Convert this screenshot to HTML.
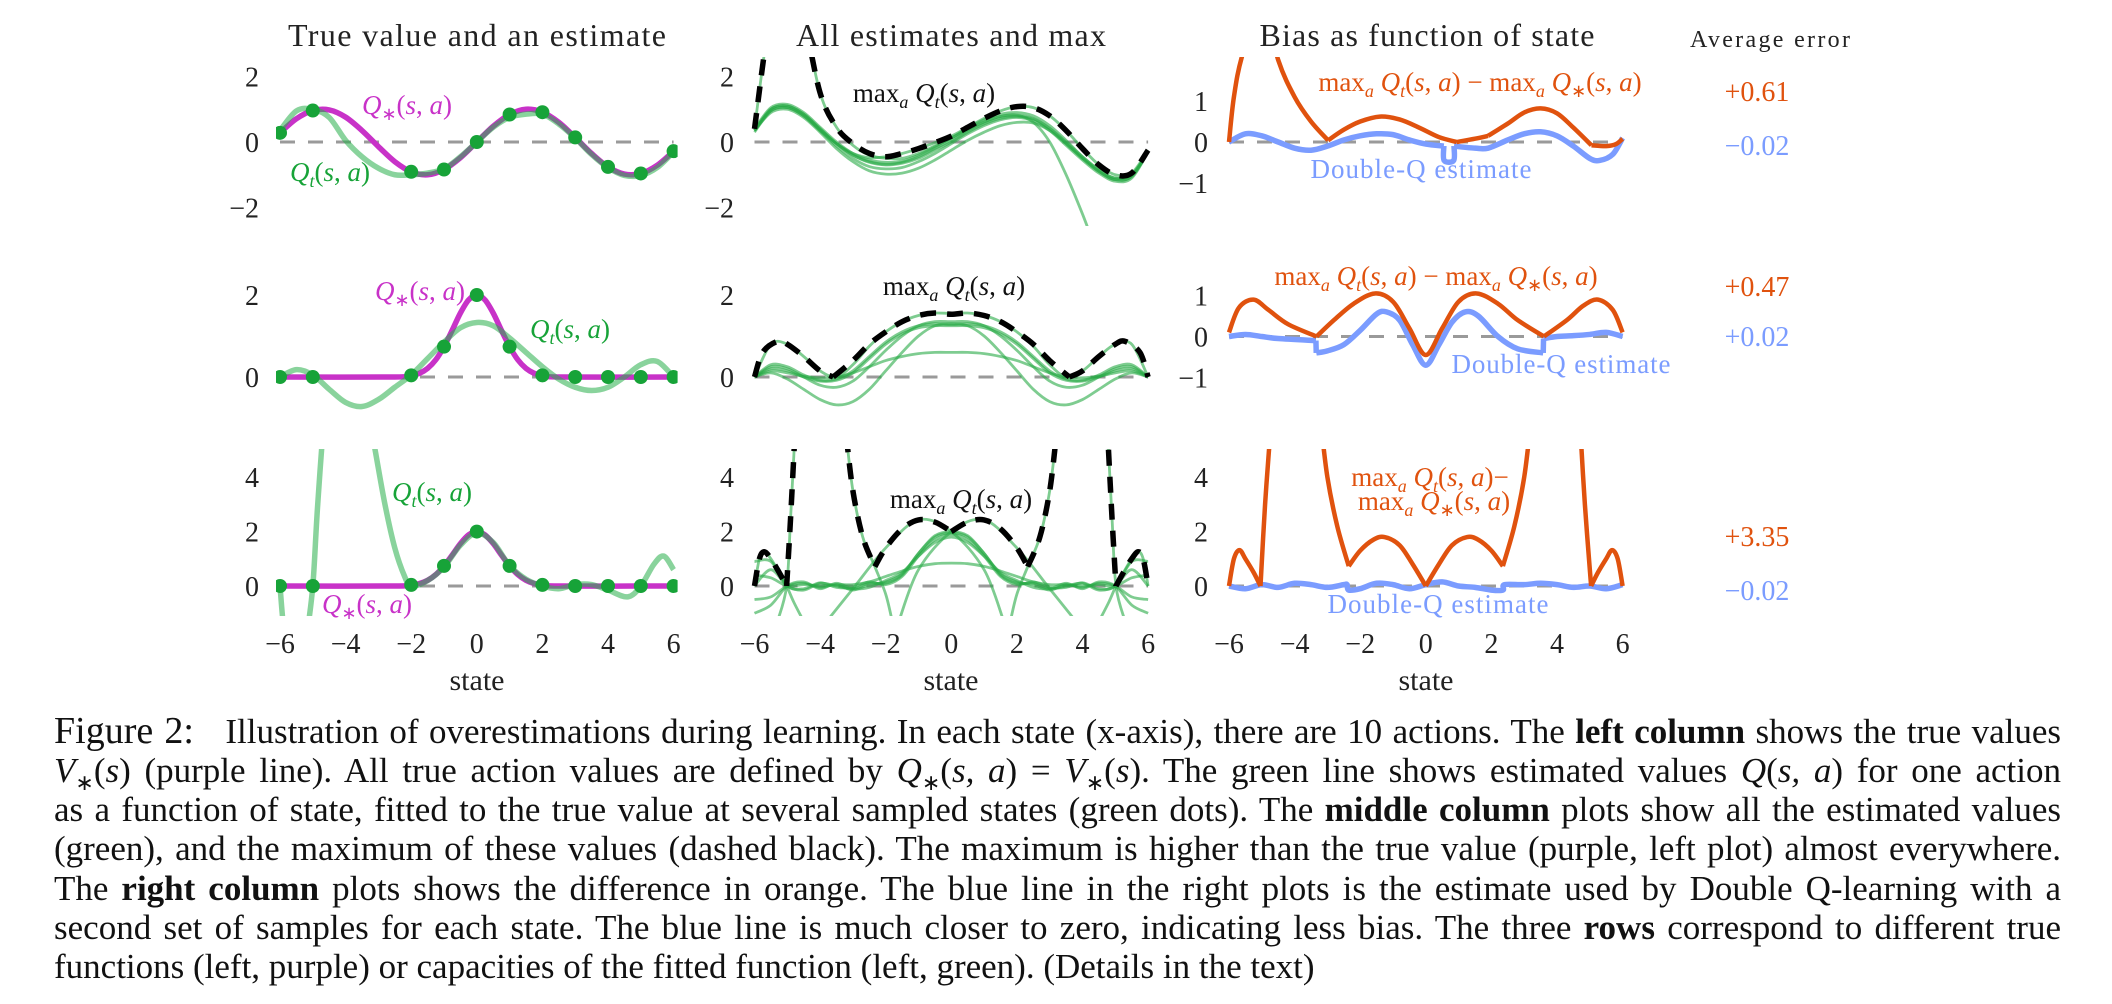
<!DOCTYPE html>
<html><head><meta charset="utf-8">
<style>
html,body{margin:0;padding:0;background:#fff;}
body{width:2112px;height:1004px;position:relative;overflow:hidden;font-family:"Liberation Serif",serif;}
svg{position:absolute;left:0;top:0;font-family:"Liberation Serif",serif;}
svg text{font-family:"Liberation Serif",serif;}
.cap{position:absolute;left:54px;width:2007px;font-size:35px;line-height:39px;height:39px;white-space:nowrap;color:#111;text-align:justify;text-align-last:justify;}
.cap.last{text-align:left;text-align-last:left;}
.fig{font-size:38px;}
.cap sub{font-size:22px;line-height:0;}
</style></head>
<body>
<svg id="chart" width="2112" height="700" viewBox="0 0 2112 700">
<defs id="defs"></defs>
<g font-size="32" fill="#222" text-anchor="middle">
<text x="477" y="46" textLength="378">True value and an estimate</text>
<text x="951" y="46" textLength="310">All estimates and max</text>
<text x="1427" y="46" textLength="335">Bias as function of state</text>
<text x="1770" y="47" font-size="24" textLength="160">Average error</text>
<text x="477" y="690" font-size="30">state</text>
<text x="951" y="690" font-size="30">state</text>
<text x="1426" y="690" font-size="30">state</text>
</g>
<g id="plots"></g>
<g id="ticks" font-size="28" fill="#222"></g>
<g font-size="27" text-anchor="middle" id="labels">
<text x="407" y="114" fill="#c832c8"><tspan font-style="italic">Q</tspan><tspan font-size="18" dy="6">∗</tspan><tspan dy="-6">(</tspan><tspan font-style="italic">s</tspan>, <tspan font-style="italic">a</tspan>)</text>
<text x="330" y="181" fill="#17a338"><tspan font-style="italic">Q</tspan><tspan font-size="18" font-style="italic" dy="6">t</tspan><tspan dy="-6">(</tspan><tspan font-style="italic">s</tspan>, <tspan font-style="italic">a</tspan>)</text>
<text x="420" y="300" fill="#c832c8"><tspan font-style="italic">Q</tspan><tspan font-size="18" dy="6">∗</tspan><tspan dy="-6">(</tspan><tspan font-style="italic">s</tspan>, <tspan font-style="italic">a</tspan>)</text>
<text x="570" y="338" fill="#17a338"><tspan font-style="italic">Q</tspan><tspan font-size="18" font-style="italic" dy="6">t</tspan><tspan dy="-6">(</tspan><tspan font-style="italic">s</tspan>, <tspan font-style="italic">a</tspan>)</text>
<text x="432" y="501" fill="#17a338"><tspan font-style="italic">Q</tspan><tspan font-size="18" font-style="italic" dy="6">t</tspan><tspan dy="-6">(</tspan><tspan font-style="italic">s</tspan>, <tspan font-style="italic">a</tspan>)</text>
<text x="367" y="613" fill="#c832c8"><tspan font-style="italic">Q</tspan><tspan font-size="18" dy="6">∗</tspan><tspan dy="-6">(</tspan><tspan font-style="italic">s</tspan>, <tspan font-style="italic">a</tspan>)</text>

<text x="924" y="102" fill="#111">max<tspan font-size="18" font-style="italic" dy="6">a</tspan><tspan dy="-6"> </tspan><tspan font-style="italic">Q</tspan><tspan font-size="18" font-style="italic" dy="6">t</tspan><tspan dy="-6">(</tspan><tspan font-style="italic">s</tspan>, <tspan font-style="italic">a</tspan>)</text>
<text x="954" y="295" fill="#111">max<tspan font-size="18" font-style="italic" dy="6">a</tspan><tspan dy="-6"> </tspan><tspan font-style="italic">Q</tspan><tspan font-size="18" font-style="italic" dy="6">t</tspan><tspan dy="-6">(</tspan><tspan font-style="italic">s</tspan>, <tspan font-style="italic">a</tspan>)</text>
<text x="961" y="508" fill="#111">max<tspan font-size="18" font-style="italic" dy="6">a</tspan><tspan dy="-6"> </tspan><tspan font-style="italic">Q</tspan><tspan font-size="18" font-style="italic" dy="6">t</tspan><tspan dy="-6">(</tspan><tspan font-style="italic">s</tspan>, <tspan font-style="italic">a</tspan>)</text>

<text x="1480" y="91" fill="#e0520e">max<tspan font-size="18" font-style="italic" dy="6">a</tspan><tspan dy="-6"> </tspan><tspan font-style="italic">Q</tspan><tspan font-size="18" font-style="italic" dy="6">t</tspan><tspan dy="-6">(</tspan><tspan font-style="italic">s</tspan>, <tspan font-style="italic">a</tspan>) − max<tspan font-size="18" font-style="italic" dy="6">a</tspan><tspan dy="-6"> </tspan><tspan font-style="italic">Q</tspan><tspan font-size="18" dy="6">∗</tspan><tspan dy="-6">(</tspan><tspan font-style="italic">s</tspan>, <tspan font-style="italic">a</tspan>)</text>
<text x="1436" y="285" fill="#e0520e">max<tspan font-size="18" font-style="italic" dy="6">a</tspan><tspan dy="-6"> </tspan><tspan font-style="italic">Q</tspan><tspan font-size="18" font-style="italic" dy="6">t</tspan><tspan dy="-6">(</tspan><tspan font-style="italic">s</tspan>, <tspan font-style="italic">a</tspan>) − max<tspan font-size="18" font-style="italic" dy="6">a</tspan><tspan dy="-6"> </tspan><tspan font-style="italic">Q</tspan><tspan font-size="18" dy="6">∗</tspan><tspan dy="-6">(</tspan><tspan font-style="italic">s</tspan>, <tspan font-style="italic">a</tspan>)</text>
<text x="1430" y="486" fill="#e0520e">max<tspan font-size="18" font-style="italic" dy="6">a</tspan><tspan dy="-6"> </tspan><tspan font-style="italic">Q</tspan><tspan font-size="18" font-style="italic" dy="6">t</tspan><tspan dy="-6">(</tspan><tspan font-style="italic">s</tspan>, <tspan font-style="italic">a</tspan>)−</text>
<text x="1434" y="510" fill="#e0520e">max<tspan font-size="18" font-style="italic" dy="6">a</tspan><tspan dy="-6"> </tspan><tspan font-style="italic">Q</tspan><tspan font-size="18" dy="6">∗</tspan><tspan dy="-6">(</tspan><tspan font-style="italic">s</tspan>, <tspan font-style="italic">a</tspan>)</text>

<text x="1421" y="178" fill="#7b9cff" textLength="221">Double-Q estimate</text>
<text x="1561" y="373" fill="#7b9cff" textLength="219">Double-Q estimate</text>
<text x="1438" y="613" fill="#7b9cff" textLength="221">Double-Q estimate</text>

<g font-size="28">
<text x="1757" y="101" fill="#e0520e">+0.61</text>
<text x="1757" y="155" fill="#7b9cff">−0.02</text>
<text x="1757" y="296" fill="#e0520e">+0.47</text>
<text x="1757" y="346" fill="#7b9cff">+0.02</text>
<text x="1757" y="546" fill="#e0520e">+3.35</text>
<text x="1757" y="600" fill="#7b9cff">−0.02</text>
</g>
</g>
</svg>

<div class="cap" style="top:712px"><span class="fig">Figure 2:</span>&nbsp;&nbsp; Illustration of overestimations during learning. In each state (x-axis), there are 10 actions. The <b>left column</b> shows the true values</div>
<div class="cap" style="top:751px"><i>V</i><sub>∗</sub>(<i>s</i>) (purple line). All true action values are defined by <i>Q</i><sub>∗</sub>(<i>s, a</i>) = <i>V</i><sub>∗</sub>(<i>s</i>). The green line shows estimated values <i>Q</i>(<i>s, a</i>) for one action</div>
<div class="cap" style="top:790px">as a function of state, fitted to the true value at several sampled states (green dots). The <b>middle column</b> plots show all the estimated values</div>
<div class="cap" style="top:829px">(green), and the maximum of these values (dashed black). The maximum is higher than the true value (purple, left plot) almost everywhere.</div>
<div class="cap" style="top:869px">The <b>right column</b> plots shows the difference in orange. The blue line in the right plots is the estimate used by Double Q-learning with a</div>
<div class="cap" style="top:908px">second set of samples for each state. The blue line is much closer to zero, indicating less bias. The three <b>rows</b> correspond to different true</div>
<div class="cap last" style="top:947px">functions (left, purple) or capacities of the fitted function (left, green). (Details in the text)</div>

<script>
// ---------- data ----------
const XS = [-6,-5.5,-5,-4.5,-4,-3.5,-3,-2.5,-2,-1.5,-1,-0.5,0,0.5,1,1.5,2,2.5,3,3.5,4,4.5,5,5.5,6];
const X_TICKS = [-6,-4,-2,0,2,4,6];
const Y_TICKS_LEFT = [[2,0,-2],[2,0],[4,2,0]];
const Y_TICKS_RIGHT = [[1,0,-1],[1,0,-1],[4,2,0]];
const DOT_STATES = [-6,-5,-2,-1,0,1,2,3,4,5,6];

// left column
const trueRow1 = [0.28,0.71,0.96,0.98,0.76,0.35,-0.14,-0.6,-0.91,-1.0,-0.84,-0.48,0,0.48,0.84,1.0,0.91,0.6,0.14,-0.35,-0.76,-0.98,-0.96,-0.71,-0.28];
const trueBump = [[-6,0],[-2.5,0],[-2,0.04],[-1.75,0.09],[-1.5,0.21],[-1.25,0.42],[-1,0.74],[-0.75,1.14],[-0.5,1.56],[-0.25,1.88],[0,2],[0.25,1.88],[0.5,1.56],[0.75,1.14],[1,0.74],[1.25,0.42],[1.5,0.21],[1.75,0.09],[2,0.04],[2.5,0],[6,0]];
const estRow1 = [0.35,0.95,1.0,0.75,0.05,-0.45,-0.8,-1.0,-1.0,-0.95,-0.82,-0.45,0,0.45,0.75,0.85,0.85,0.55,0.12,-0.38,-0.78,-1.02,-1.02,-0.78,-0.3];
const estRow2 = [0,0.18,0.05,-0.3,-0.62,-0.72,-0.55,-0.25,0.05,0.45,0.85,1.2,1.33,1.25,0.95,0.6,0.25,-0.05,-0.25,-0.33,-0.25,0.0,0.3,0.38,0.0];
const estRow3 = [[-6,0],[-5.85,-2],[-5.5,-5],[-5.2,-2],[-5,0],[-4.85,3],[-4.6,7],[-4,15],[-3.4,7],[-3.1,5],[-2.8,3],[-2.5,1.4],[-2.2,0.35],[-2,0],[-1.5,0.2],[-1,0.7],[-0.5,1.5],[0,1.95],[0.5,1.6],[1,0.75],[1.5,0.25],[2,0.0],[2.5,-0.1],[3,0.05],[3.5,0.05],[4,-0.15],[4.6,-0.4],[5,0],[5.4,0.8],[5.7,1.1],[6,0.6]];
const dotsRow1 = [0.28,0.96,-0.91,-0.84,0,0.84,0.91,0.14,-0.76,-0.96,-0.28];
const dotsBump = [0,0,0.04,0.74,2,0.74,0.04,0,0,0,0];

// middle column row 1
const midR1a = [0.35,1.0,1.1,0.85,0.4,-0.05,-0.4,-0.62,-0.7,-0.65,-0.5,-0.25,0.0,0.3,0.55,0.72,0.78,0.7,0.4,-0.05,-0.5,-0.9,-1.15,-1.05,-0.3];
const midR1b = [0.3,0.95,1.05,0.8,0.35,-0.12,-0.5,-0.75,-0.82,-0.78,-0.6,-0.35,-0.05,0.25,0.5,0.68,0.75,0.65,0.35,-0.1,-0.55,-0.95,-1.2,-1.1,-0.3];
const midR1c = [0.35,0.9,1.0,0.75,0.3,-0.2,-0.6,-0.88,-0.98,-0.95,-0.8,-0.55,-0.25,0.05,0.3,0.5,0.6,0.58,0.35,-0.05,-0.5,-0.9,-1.15,-1.05,-0.3];
const midR1d = [0.4,1.05,1.15,0.9,0.45,0.0,-0.35,-0.55,-0.62,-0.58,-0.4,-0.15,0.12,0.42,0.68,0.85,0.9,0.8,0.5,0.05,-0.45,-0.85,-1.1,-1.0,-0.3];
const midR1e = [0.4,4.0,5.5,3.8,1.5,0.45,-0.1,-0.4,-0.5,-0.5,-0.35,-0.12,0.12,0.38,0.62,0.78,0.82,0.72,0.42,0.0,-0.45,-0.85,-1.1,-1.0,-0.3];
const midR1f = [0.35,0.95,1.05,0.8,0.35,-0.05,-0.35,-0.48,-0.45,-0.35,-0.2,-0.02,0.18,0.45,0.72,0.95,1.08,1.05,0.8,0.35,-0.2,-0.7,-1.0,-0.95,-0.25];
const midR1g = [0.35,1.0,1.1,0.85,0.4,-0.05,-0.4,-0.6,-0.68,-0.62,-0.45,-0.2,0.05,0.35,0.6,0.78,0.82,0.6,0.0,-1.0,-2.2,-3.5,-4.5,-5,-5];
const maxR1 = [0.4,4.0,5.5,3.8,1.5,0.45,-0.05,-0.35,-0.45,-0.35,-0.2,-0.02,0.18,0.45,0.72,0.95,1.08,1.05,0.8,0.35,-0.2,-0.7,-1.0,-0.95,-0.25];

// middle column row 2
const midR2a = [0,0.3,0.25,0.05,-0.08,-0.05,0.15,0.5,0.85,1.1,1.25,1.3,1.28,1.3,1.25,1.1,0.85,0.5,0.15,-0.05,-0.08,0.05,0.25,0.3,0];
const midR2b = [0,0.2,0.15,0,-0.1,-0.08,0.1,0.45,0.8,1.05,1.2,1.25,1.25,1.25,1.2,1.05,0.8,0.45,0.1,-0.08,-0.1,0,0.15,0.2,0];
const midR2c = [0,0.15,0.1,0.02,-0.02,0.0,0.1,0.25,0.4,0.5,0.57,0.6,0.6,0.6,0.57,0.5,0.4,0.25,0.1,0,-0.02,0.02,0.1,0.15,0];
const midR2d = [0,0.1,-0.05,-0.3,-0.55,-0.68,-0.6,-0.3,0.15,0.6,1.0,1.25,1.3,1.25,1.0,0.6,0.15,-0.3,-0.6,-0.68,-0.55,-0.3,-0.05,0.1,0];
const midR2e = [0,0.8,0.8,0.5,0.15,0.0,0.3,0.75,1.1,1.35,1.5,1.56,1.55,1.56,1.5,1.35,1.1,0.75,0.3,0.0,0.15,0.5,0.8,0.8,0];
const midR2f = [0,0.25,0.2,0.0,-0.2,-0.25,-0.1,0.25,0.65,1.0,1.25,1.35,1.35,1.35,1.25,1.0,0.65,0.25,-0.1,-0.25,-0.2,0.0,0.2,0.25,0];
const maxR2 = [[[-6,0],[-5.75,0.6],[-5.3,0.87],[-5,0.8],[-4.5,0.5],[-4,0.15],[-3.6,0]],[[-3.6,0],[-3,0.4],[-2.5,0.8],[-2,1.1],[-1.5,1.35],[-1,1.5],[-0.5,1.56],[0,1.53],[0.5,1.56],[1,1.5],[1.5,1.35],[2,1.1],[2.5,0.8],[3,0.4],[3.6,0]],[[3.6,0],[4,0.15],[4.5,0.5],[5,0.8],[5.3,0.87],[5.75,0.6],[6,0]]];

// middle column row 3
const midR3a = [0,0.6,0,-0.15,0.1,0.0,-0.1,0.1,0.1,0.4,1.2,1.8,1.95,1.8,1.2,0.4,0.1,0.1,-0.1,0.0,0.1,-0.15,0,0.6,0];
const midR3b = [0.9,0.9,0,-0.1,0.12,-0.05,-0.05,0.15,0.05,0.35,1.1,1.7,1.9,1.7,1.1,0.35,0.05,0.15,-0.05,-0.05,0.12,-0.1,0,0.9,0.9];
const midR3c = [-0.5,-0.4,0,0.1,-0.05,0.05,-0.15,0.05,0.15,0.45,1.2,1.85,2.0,1.85,1.2,0.45,0.15,0.05,-0.15,0.05,-0.05,0.1,0,-0.4,-0.5];
const midR3d = [0.4,0.3,0,0.05,0.0,0.05,0.05,0.15,0.35,0.55,0.72,0.82,0.84,0.82,0.72,0.55,0.35,0.15,0.05,0.05,0.0,0.05,0,0.3,0.4];
const midR3e = [-1.0,-0.7,0,0.15,-0.1,0.1,-0.1,-0.05,0.2,0.5,1.1,1.6,1.8,1.6,1.1,0.5,0.2,-0.05,-0.1,0.1,-0.1,0.15,0,-0.7,-1.0];
const midR3arcL = [[-3.8,-1.3],[-3,-0.1],[-2,1.4],[-1,2.43],[0,2.0],[1,0.6],[1.6,-1.3]];
const midR3arcR = [[-1.6,-1.3],[-1,0.6],[0,2.0],[1,2.43],[2,1.4],[3,-0.1],[3.8,-1.3]];
const midR3steepL = [[-3.2,5.5],[-3,3.5],[-2.7,1.8],[-2.33,0.71],[-2,-0.3],[-1.8,-1.3]];
const midR3steepR = [[1.8,-1.3],[2,-0.3],[2.33,0.71],[2.7,1.8],[3,3.5],[3.2,5.5]];
const midR3spikeL = [[-5.3,-1.3],[-5.02,0],[-4.9,2.5],[-4.75,6]];
const midR3spikeR = [[4.75,6],[4.9,2.5],[5.02,0],[5.3,-1.3]];
const midR3edgeL = [[-6,0],[-5.85,1.0],[-5.7,1.26],[-5.5,1.0],[-5.25,0.5],[-5.02,0],[-4.8,-0.6],[-4.5,-1.3]];
const midR3edgeR = [[4.5,-1.3],[4.8,-0.6],[5.02,0],[5.25,0.5],[5.5,1.0],[5.7,1.26],[5.85,1.0],[6,0]];
const maxR3 = [[[-6,0],[-5.85,1.0],[-5.7,1.26],[-5.5,1.0],[-5.25,0.5],[-5.02,0]],[[-5.02,0],[-4.9,2.5],[-4.75,6]],[[-3.2,5.5],[-3,3.5],[-2.7,1.8],[-2.33,0.71]],[[-2.33,0.71],[-2,1.4],[-1.5,2.1],[-1,2.43],[-0.5,2.35],[0,2.0]],[[0,2.0],[0.5,2.35],[1,2.43],[1.5,2.1],[2,1.4],[2.33,0.71]],[[2.33,0.71],[2.7,1.8],[3,3.5],[3.2,5.5]],[[4.75,6],[4.9,2.5],[5.02,0]],[[5.02,0],[5.25,0.5],[5.5,1.0],[5.7,1.26],[5.85,1.0],[6,0]]];

// right column
const biasR1 = [[[-6,0],[-5.85,1.1],[-5.6,2.1],[-5,3.5],[-4.5,2.0],[-4,1.1],[-3.5,0.5],[-2.98,0.04]],[[-2.98,0.04],[-2.5,0.3],[-2,0.5],[-1.4,0.62],[-0.8,0.55],[-0.2,0.35],[0.4,0.12],[0.94,0.0]],[[0.94,0.0],[1.5,0.08],[1.9,0.15]],[[1.9,0.15],[2.5,0.45],[3,0.72],[3.5,0.82],[4,0.7],[4.5,0.35],[5.05,-0.08]],[[5.05,-0.08],[5.5,-0.1],[5.8,-0.05],[6,0.08]]];
const dqR1 = [[[-6,0],[-5.5,0.2],[-5,0.15],[-4.5,0],[-4,-0.15],[-3.5,-0.2],[-3,-0.1],[-2.5,0.05],[-2,0.15],[-1.5,0.2],[-1,0.18],[-0.5,0.05],[0,-0.05],[0.55,-0.1]],[[0.55,-0.1],[0.56,-0.45],[0.85,-0.45],[0.86,-0.1]],[[0.86,-0.1],[1.5,-0.15],[1.9,-0.15],[2.5,0.05],[3,0.2],[3.5,0.25],[4,0.15],[4.5,-0.1],[5,-0.4],[5.3,-0.45],[5.7,-0.3],[6,0.1]]];
const biasR2 = [[[-6,0.1],[-5.7,0.7],[-5.25,0.9],[-4.8,0.65],[-4.2,0.3],[-3.33,0]],[[-3.33,0],[-2.8,0.4],[-2.2,0.8],[-1.55,1.05],[-1,0.85],[-0.5,0.2],[0,-0.45],[0.5,0.2],[1,0.85],[1.55,1.05],[2.2,0.8],[2.8,0.4],[3.6,0]],[[3.6,0],[4.3,0.4],[4.8,0.75],[5.25,0.9],[5.7,0.65],[6,0.1]]];
const dqR2 = [[[-6,0],[-5.5,0.05],[-5,0.0],[-4.5,-0.05],[-3.35,-0.1]],[[-3.35,-0.1],[-3.34,-0.4]],[[-3.34,-0.4],[-3,-0.35],[-2.5,-0.2],[-2,0.15],[-1.5,0.55],[-1.2,0.6],[-0.8,0.4],[-0.4,-0.2],[0,-0.7],[0.4,-0.2],[0.8,0.35],[1.2,0.6],[1.6,0.5],[2.2,0.0],[2.8,-0.3],[3.58,-0.4]],[[3.58,-0.4],[3.59,-0.05]],[[3.59,-0.05],[4,0.0],[4.5,0.02],[5,0.05],[5.5,0.1],[6,0.0]]];
const biasR3 = [[[-6,0],[-5.85,1.0],[-5.68,1.32],[-5.5,1.0],[-5.25,0.5],[-5.04,0]],[[-5.04,0],[-4.9,3],[-4.75,5.5]],[[-3.2,6],[-3.0,4.0],[-2.7,2.2],[-2.35,0.73]],[[-2.35,0.73],[-2,1.3],[-1.6,1.7],[-1.26,1.8],[-0.8,1.5],[-0.4,0.8],[0,0]],[[0,0],[0.4,0.8],[0.8,1.5],[1.26,1.8],[1.6,1.7],[2,1.3],[2.35,0.73]],[[2.35,0.73],[2.7,2.2],[3.0,4.0],[3.2,6]],[[4.7,6],[4.85,3],[5.04,0]],[[5.04,0],[5.25,0.5],[5.5,1.0],[5.68,1.32],[5.85,1.0],[6,0]]];
const dqR3 = [[-6,0],[-5.5,-0.1],[-5,0.05],[-4.5,-0.05],[-4,0.1],[-3.5,0.05],[-3,-0.05],[-2.5,0.05],[-2.4,0.05],[-2.35,-0.15],[-2,-0.1],[-1.5,0.1],[-1,0.05],[-0.5,-0.1],[0,0.05],[0.5,0.15],[1,0.0],[1.5,-0.05],[2,-0.15],[2.35,-0.15],[2.4,0.05],[3,0.05],[3.5,0.1],[4,0.05],[4.5,-0.05],[5,0],[5.5,-0.1],[6,0.05]];

// ---------- rendering ----------
const NS = 'http://www.w3.org/2000/svg';
const COLX = [280, 754.5, 1229];
const UX = 32.8;
const YSC = [
  [{z:142,u:32.75},{z:377,u:41},{z:586,u:27.2}],
  [{z:142,u:32.75},{z:377,u:41},{z:586,u:27.2}],
  [{z:142,u:41},{z:336.5,u:41},{z:586,u:27.2}]
];
const CLIPY = [
  [[57,226],[262,420],[449,616]],
  [[57,226],[262,420],[449,616]],
  [[57,210],[262,405],[449,616]]
];
function sx(col, s){ return COLX[col] + (s + 6) * UX; }
function sy(col, row, v){ const p = YSC[col][row]; return p.z - v * p.u; }

const defs = document.getElementById('defs');
const plots = document.getElementById('plots');
const ticks = document.getElementById('ticks');
const groups = {};
for (let c = 0; c < 3; c++) {
  for (let r = 0; r < 3; r++) {
    const cp = document.createElementNS(NS, 'clipPath');
    cp.setAttribute('id', 'clip' + c + r);
    const rc = document.createElementNS(NS, 'rect');
    rc.setAttribute('x', COLX[c] - 4);
    rc.setAttribute('y', CLIPY[c][r][0]);
    rc.setAttribute('width', 12 * UX + 8);
    rc.setAttribute('height', CLIPY[c][r][1] - CLIPY[c][r][0]);
    cp.appendChild(rc);
    defs.appendChild(cp);
    const g = document.createElementNS(NS, 'g');
    g.setAttribute('clip-path', 'url(#clip' + c + r + ')');
    
    
    plots.appendChild(g);
    groups[c + '' + r] = g;
    const z = document.createElementNS(NS, 'line');
    z.setAttribute('x1', sx(c, -6));
    z.setAttribute('x2', sx(c, 6));
    z.setAttribute('y1', sy(c, r, 0));
    z.setAttribute('y2', sy(c, r, 0));
    z.setAttribute('stroke', '#9a9a9a');
    z.setAttribute('stroke-width', '3');
    z.setAttribute('stroke-dasharray', '15 13');
    
    
    g.appendChild(z);
  }
}

function toPairs(arr){ return Array.isArray(arr[0]) ? arr : arr.map((v, i) => [XS[i], v]); }
function crPath(pts){
  let d = 'M' + pts[0][0].toFixed(2) + ',' + pts[0][1].toFixed(2);
  for (let i = 0; i < pts.length - 1; i++) {
    const p0 = pts[i - 1] || pts[i], p1 = pts[i], p2 = pts[i + 1], p3 = pts[i + 2] || pts[i + 1];
    const c1x = p1[0] + (p2[0] - p0[0]) / 6, c1y = p1[1] + (p2[1] - p0[1]) / 6;
    const c2x = p2[0] - (p3[0] - p1[0]) / 6, c2y = p2[1] - (p3[1] - p1[1]) / 6;
    d += 'C' + c1x.toFixed(2) + ',' + c1y.toFixed(2) + ' ' + c2x.toFixed(2) + ',' + c2y.toFixed(2) + ' ' + p2[0].toFixed(2) + ',' + p2[1].toFixed(2);
  }
  return d;
}
function line(c, r, data, stroke, width, name, dash){
  const pts = toPairs(data).map(([s, v]) => [sx(c, s), sy(c, r, v)]);
  const p = document.createElementNS(NS, 'path');
  p.setAttribute('d', crPath(pts));
  p.setAttribute('fill', 'none');
  p.setAttribute('stroke', stroke);
  p.setAttribute('stroke-width', width);
  p.setAttribute('stroke-linejoin', 'round');
  if (dash) p.setAttribute('stroke-dasharray', dash);
  
  
  groups[c + '' + r].appendChild(p);
}
function segs(c, r, list, stroke, width, name, dash){ list.forEach(sg => line(c, r, sg, stroke, width, name, dash)); }
function dots(c, r, vals){
  DOT_STATES.forEach((s, i) => {
    const d = document.createElementNS(NS, 'circle');
    d.setAttribute('cx', sx(c, s));
    d.setAttribute('cy', sy(c, r, vals[i]));
    d.setAttribute('r', '7');
    d.setAttribute('fill', '#17a338');
    
    
    groups[c + '' + r].appendChild(d);
  });
}
const PURPLE = '#c832c8', LGREEN = 'rgba(40,175,75,0.55)', MGREEN = 'rgba(40,170,70,0.6)', ORANGE = '#e0520e', BLUE = '#7b9cff';

line(0, 0, trueRow1, PURPLE, 5.5, 'true-value-line');
line(0, 0, estRow1, LGREEN, 5.5, 'estimate-line');
dots(0, 0, dotsRow1);
line(0, 1, trueBump, PURPLE, 5.5, 'true-value-line');
line(0, 1, estRow2, LGREEN, 5.5, 'estimate-line');
dots(0, 1, dotsBump);
line(0, 2, trueBump, PURPLE, 5.5, 'true-value-line');
line(0, 2, estRow3, LGREEN, 5.5, 'estimate-line');
dots(0, 2, dotsBump);

[midR1a, midR1b, midR1c, midR1d, midR1e, midR1f, midR1g].forEach(a => line(1, 0, a, MGREEN, 2.8, 'action-estimate-line'));
line(1, 0, maxR1, '#000', 5.5, 'max-estimate-line', '16 11');
[midR2a, midR2b, midR2c, midR2d, midR2e, midR2f].forEach(a => line(1, 1, a, MGREEN, 2.8, 'action-estimate-line'));
segs(1, 1, maxR2, '#000', 5.5, 'max-estimate-line', '16 11');
[midR3a, midR3b, midR3c, midR3d, midR3e, midR3arcL, midR3arcR, midR3steepL, midR3steepR, midR3spikeL, midR3spikeR, midR3edgeL, midR3edgeR].forEach(a => line(1, 2, a, MGREEN, 2.8, 'action-estimate-line'));
segs(1, 2, maxR3, '#000', 5.5, 'max-estimate-line', '16 11');

segs(2, 0, dqR1, BLUE, 5.5, 'double-q-line');
segs(2, 0, biasR1, ORANGE, 4.5, 'bias-line');
segs(2, 1, dqR2, BLUE, 5.5, 'double-q-line');
segs(2, 1, biasR2, ORANGE, 4.5, 'bias-line');
line(2, 2, dqR3, BLUE, 5.5, 'double-q-line');
segs(2, 2, biasR3, ORANGE, 4.5, 'bias-line');

function fmt(v){ return v < 0 ? '\u2212' + Math.abs(v) : String(v); }
for (let c = 0; c < 3; c++) {
  X_TICKS.forEach(t => {
    const tx = document.createElementNS(NS, 'text');
    tx.setAttribute('x', sx(c, t));
    tx.setAttribute('y', 653);
    tx.setAttribute('text-anchor', 'middle');
    tx.textContent = fmt(t);
    
    
    ticks.appendChild(tx);
  });
  const right = [259, 734, 1208][c];
  for (let r = 0; r < 3; r++) {
    const list = c === 2 ? Y_TICKS_RIGHT[r] : Y_TICKS_LEFT[r];
    list.forEach(t => {
      const ty = document.createElementNS(NS, 'text');
      ty.setAttribute('x', right);
      ty.setAttribute('y', sy(c, r, t) + 10);
      ty.setAttribute('text-anchor', 'end');
      ty.textContent = fmt(t);
      
      
      ticks.appendChild(ty);
    });
  }
}
</script>
</body></html>
